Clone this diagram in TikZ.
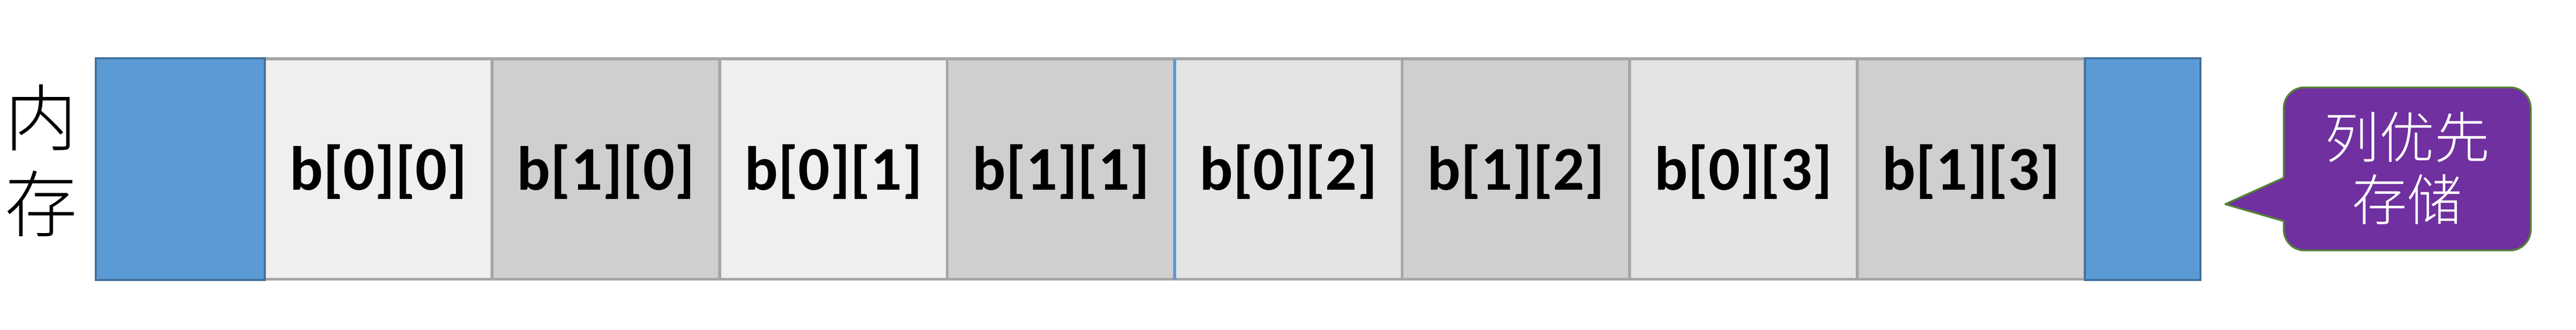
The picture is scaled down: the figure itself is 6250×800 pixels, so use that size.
\documentclass[tikz,border=0pt]{standalone}
\usepackage{fontspec}
\setmainfont{Carlito}
\newfontfamily\cjk{Noto Sans CJK SC}[UprightFont=* Light]
\definecolor{blueF}{HTML}{5B9BD5}
\definecolor{blueD}{HTML}{41719C}
\definecolor{lightA}{HTML}{EFEFEF}
\definecolor{lightB}{HTML}{E4E4E4}
\definecolor{darkC}{HTML}{D0CECF}
\definecolor{gridC}{HTML}{A6A6A6}
\definecolor{calloutF}{HTML}{7030A0}
\definecolor{calloutD}{HTML}{548235}
\begin{document}
\begin{tikzpicture}[x=0.01cm,y=0.01cm,
  cell/.style={draw=gridC, line width=0.07cm, anchor=south west, inner sep=0pt, outer sep=0pt,
    minimum width=5.521cm, minimum height=5.34cm, text height=1.2cm, text depth=0.18cm,
    font=\bfseries\fontsize{43}{50}\selectfont},
  cellA/.style={cell, fill=lightA},
  cellB/.style={cell, fill=lightB},
  cellD/.style={cell, fill=darkC},
  endbox/.style={draw=blueD, fill=blueF, line width=0.05cm, anchor=south west, inner sep=0pt, outer sep=0pt,
    minimum height=5.38cm},
  sidelabel/.style={align=center, inner sep=0pt, font=\cjk\fontsize{50}{59.5}\selectfont},
  callouttext/.style={align=center, inner sep=0pt, text=white, font=\cjk\fontsize{38}{43}\selectfont},
  calloutshape/.style={draw=calloutD, fill=calloutF, line width=0.045cm, line join=round}
]
\useasboundingbox (0,0) rectangle (6250,800);
% cells
\node[cellA] (c1) at (642,123) {b[0][0]};
\node[cellD] (c2) at (1194,123) {b[1][0]};
\node[cellA] (c3) at (1746,123) {b[0][1]};
\node[cellD] (c4) at (2298,123) {b[1][1]};
\node[cellB] (c5) at (2850,123) {b[0][2]};
\node[cellD] (c6) at (3402,123) {b[1][2]};
\node[cellB] (c7) at (3954,123) {b[0][3]};
\node[cellD] (c8) at (4506,123) {b[1][3]};
% group separator
\draw[blueF, line width=0.07cm] (c5.south west) -- (c5.north west);
% end boxes
\node[endbox, minimum width=4.10cm] (lb) at (232,121) {};
\node[endbox, minimum width=2.80cm] (rb) at (5059,121) {};
% side label
\node[sidelabel] (mem) at (100,411) {内\\存};
% callout
\coordinate (tip) at (5399,305);
\path[calloutshape] (tip) -- (5541,369) -- (5541,538) arc[start angle=180,end angle=90,radius=0.5cm]
  -- (6090,588) arc[start angle=90,end angle=0,radius=0.5cm]
  -- (6140,243) arc[start angle=0,end angle=-90,radius=0.5cm]
  -- (5591,193) arc[start angle=270,end angle=180,radius=0.5cm]
  -- (5541,264) -- cycle;
\node[callouttext] (note) at (5840,392) {列优先\\存储};
\end{tikzpicture}
\end{document}
